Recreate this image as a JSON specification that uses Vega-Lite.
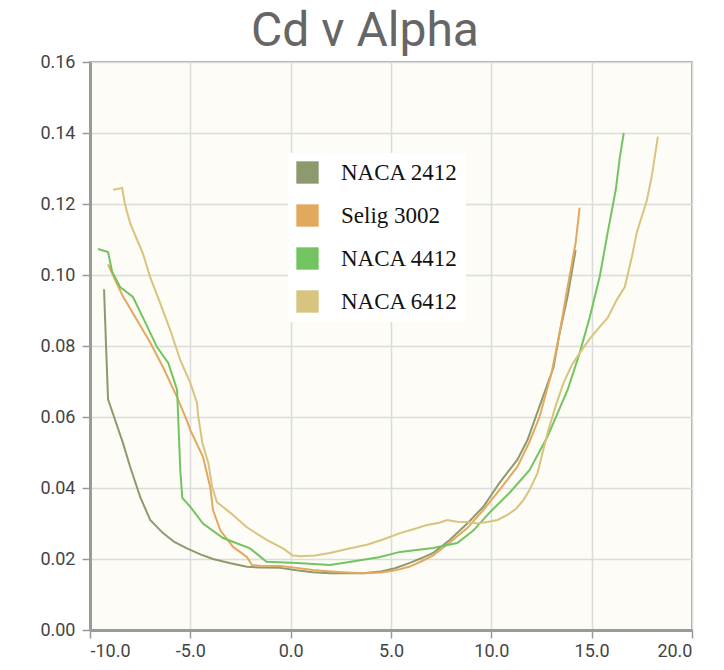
{
  "$schema": "https://vega.github.io/schema/vega-lite/v6.json",
  "autosize": "none",
  "width": 602,
  "height": 568,
  "padding": {"left": 90, "top": 62, "right": 32, "bottom": 40},
  "background": "#ffffff",
  "title": {
    "text": "Cd v Alpha",
    "fontSize": 48,
    "font": "Roboto",
    "fontWeight": "normal",
    "color": "#666666",
    "anchor": "middle",
    "baseline": "bottom",
    "offset": 2,
    "dx": -26,
    "dy": 53
  },
  "config": {
    "view": {"fill": "#fdfcf6", "stroke": "#a8a8a8", "strokeWidth": 2},
    "axis": {
      "labelFont": "Roboto",
      "labelFontSize": 18,
      "labelColor": "#444444",
      "tickColor": "#999999",
      "tickSize": 8,
      "tickWidth": 1.5,
      "domainColor": "#9a9a9a",
      "domainWidth": 3,
      "gridColor": "#dcdcdc",
      "gridWidth": 1.5,
      "title": null
    },
    "legend": {
      "labelFont": "Liberation Serif",
      "labelFontSize": 23,
      "labelColor": "#111111",
      "symbolType": "square",
      "symbolSize": 500,
      "symbolStrokeWidth": 0,
      "labelOffset": 22,
      "rowPadding": 19,
      "padding": 8,
      "titlePadding": 0
    }
  },
  "data": {
    "values": [
      {"airfoil": "NACA 2412", "alpha": -9.3, "cd": 0.096},
      {"airfoil": "NACA 2412", "alpha": -9.2, "cd": 0.08},
      {"airfoil": "NACA 2412", "alpha": -9.1, "cd": 0.065},
      {"airfoil": "NACA 2412", "alpha": -8.8, "cd": 0.06},
      {"airfoil": "NACA 2412", "alpha": -8.36, "cd": 0.0527},
      {"airfoil": "NACA 2412", "alpha": -8.0, "cd": 0.046},
      {"airfoil": "NACA 2412", "alpha": -7.5, "cd": 0.0375},
      {"airfoil": "NACA 2412", "alpha": -7.0, "cd": 0.031},
      {"airfoil": "NACA 2412", "alpha": -6.36, "cd": 0.0273},
      {"airfoil": "NACA 2412", "alpha": -5.8, "cd": 0.0248},
      {"airfoil": "NACA 2412", "alpha": -5.17, "cd": 0.023},
      {"airfoil": "NACA 2412", "alpha": -4.5, "cd": 0.0213},
      {"airfoil": "NACA 2412", "alpha": -3.87, "cd": 0.02},
      {"airfoil": "NACA 2412", "alpha": -3.0, "cd": 0.0188},
      {"airfoil": "NACA 2412", "alpha": -2.18, "cd": 0.0178},
      {"airfoil": "NACA 2412", "alpha": -1.5, "cd": 0.0176},
      {"airfoil": "NACA 2412", "alpha": -0.53, "cd": 0.0175},
      {"airfoil": "NACA 2412", "alpha": 0.3, "cd": 0.0168},
      {"airfoil": "NACA 2412", "alpha": 1.1, "cd": 0.0163},
      {"airfoil": "NACA 2412", "alpha": 2.0, "cd": 0.016},
      {"airfoil": "NACA 2412", "alpha": 2.8, "cd": 0.016},
      {"airfoil": "NACA 2412", "alpha": 3.6, "cd": 0.016},
      {"airfoil": "NACA 2412", "alpha": 4.5, "cd": 0.0165},
      {"airfoil": "NACA 2412", "alpha": 5.2, "cd": 0.0174},
      {"airfoil": "NACA 2412", "alpha": 5.94, "cd": 0.0189},
      {"airfoil": "NACA 2412", "alpha": 6.5, "cd": 0.0202},
      {"airfoil": "NACA 2412", "alpha": 7.1, "cd": 0.0217},
      {"airfoil": "NACA 2412", "alpha": 7.94, "cd": 0.0254},
      {"airfoil": "NACA 2412", "alpha": 8.8, "cd": 0.03},
      {"airfoil": "NACA 2412", "alpha": 9.6, "cd": 0.0347},
      {"airfoil": "NACA 2412", "alpha": 10.4, "cd": 0.0414},
      {"airfoil": "NACA 2412", "alpha": 11.3, "cd": 0.048},
      {"airfoil": "NACA 2412", "alpha": 11.8, "cd": 0.0535},
      {"airfoil": "NACA 2412", "alpha": 12.4, "cd": 0.063},
      {"airfoil": "NACA 2412", "alpha": 13.1, "cd": 0.074},
      {"airfoil": "NACA 2412", "alpha": 13.4, "cd": 0.0836},
      {"airfoil": "NACA 2412", "alpha": 13.8, "cd": 0.094},
      {"airfoil": "NACA 2412", "alpha": 14.2, "cd": 0.107},

      {"airfoil": "Selig 3002", "alpha": -9.1, "cd": 0.103},
      {"airfoil": "Selig 3002", "alpha": -8.7, "cd": 0.098},
      {"airfoil": "Selig 3002", "alpha": -8.36, "cd": 0.094},
      {"airfoil": "Selig 3002", "alpha": -7.66, "cd": 0.0873},
      {"airfoil": "Selig 3002", "alpha": -7.0, "cd": 0.081},
      {"airfoil": "Selig 3002", "alpha": -6.36, "cd": 0.074},
      {"airfoil": "Selig 3002", "alpha": -5.66, "cd": 0.0656},
      {"airfoil": "Selig 3002", "alpha": -5.17, "cd": 0.059},
      {"airfoil": "Selig 3002", "alpha": -5.0, "cd": 0.0563},
      {"airfoil": "Selig 3002", "alpha": -4.37, "cd": 0.0488},
      {"airfoil": "Selig 3002", "alpha": -4.0, "cd": 0.04},
      {"airfoil": "Selig 3002", "alpha": -3.87, "cd": 0.0338},
      {"airfoil": "Selig 3002", "alpha": -3.5, "cd": 0.028},
      {"airfoil": "Selig 3002", "alpha": -2.87, "cd": 0.0234},
      {"airfoil": "Selig 3002", "alpha": -2.18, "cd": 0.0206},
      {"airfoil": "Selig 3002", "alpha": -1.93, "cd": 0.0183},
      {"airfoil": "Selig 3002", "alpha": -1.5, "cd": 0.0181},
      {"airfoil": "Selig 3002", "alpha": -0.53, "cd": 0.018},
      {"airfoil": "Selig 3002", "alpha": 0.3, "cd": 0.0175},
      {"airfoil": "Selig 3002", "alpha": 1.1, "cd": 0.0169},
      {"airfoil": "Selig 3002", "alpha": 2.0, "cd": 0.0165},
      {"airfoil": "Selig 3002", "alpha": 2.8, "cd": 0.0162},
      {"airfoil": "Selig 3002", "alpha": 3.6, "cd": 0.016},
      {"airfoil": "Selig 3002", "alpha": 4.5, "cd": 0.0162},
      {"airfoil": "Selig 3002", "alpha": 5.2, "cd": 0.0168},
      {"airfoil": "Selig 3002", "alpha": 5.9, "cd": 0.0178},
      {"airfoil": "Selig 3002", "alpha": 6.5, "cd": 0.0193},
      {"airfoil": "Selig 3002", "alpha": 7.1, "cd": 0.021},
      {"airfoil": "Selig 3002", "alpha": 7.9, "cd": 0.0245},
      {"airfoil": "Selig 3002", "alpha": 8.8, "cd": 0.0287},
      {"airfoil": "Selig 3002", "alpha": 9.6, "cd": 0.0338},
      {"airfoil": "Selig 3002", "alpha": 10.4, "cd": 0.0394},
      {"airfoil": "Selig 3002", "alpha": 11.3, "cd": 0.046},
      {"airfoil": "Selig 3002", "alpha": 11.9, "cd": 0.053},
      {"airfoil": "Selig 3002", "alpha": 12.4, "cd": 0.06},
      {"airfoil": "Selig 3002", "alpha": 13.0, "cd": 0.0724},
      {"airfoil": "Selig 3002", "alpha": 13.4, "cd": 0.0836},
      {"airfoil": "Selig 3002", "alpha": 13.8, "cd": 0.0966},
      {"airfoil": "Selig 3002", "alpha": 14.2, "cd": 0.109},
      {"airfoil": "Selig 3002", "alpha": 14.4, "cd": 0.119},

      {"airfoil": "NACA 4412", "alpha": -9.6, "cd": 0.1073},
      {"airfoil": "NACA 4412", "alpha": -9.1, "cd": 0.1065},
      {"airfoil": "NACA 4412", "alpha": -8.9, "cd": 0.101},
      {"airfoil": "NACA 4412", "alpha": -8.5, "cd": 0.0966},
      {"airfoil": "NACA 4412", "alpha": -7.86, "cd": 0.0938},
      {"airfoil": "NACA 4412", "alpha": -7.36, "cd": 0.088},
      {"airfoil": "NACA 4412", "alpha": -6.66, "cd": 0.0797},
      {"airfoil": "NACA 4412", "alpha": -6.1, "cd": 0.0752},
      {"airfoil": "NACA 4412", "alpha": -5.66, "cd": 0.0676},
      {"airfoil": "NACA 4412", "alpha": -5.6, "cd": 0.059},
      {"airfoil": "NACA 4412", "alpha": -5.5, "cd": 0.045},
      {"airfoil": "NACA 4412", "alpha": -5.4, "cd": 0.0372},
      {"airfoil": "NACA 4412", "alpha": -5.0, "cd": 0.0347},
      {"airfoil": "NACA 4412", "alpha": -4.37, "cd": 0.03},
      {"airfoil": "NACA 4412", "alpha": -3.37, "cd": 0.0259},
      {"airfoil": "NACA 4412", "alpha": -2.03, "cd": 0.023},
      {"airfoil": "NACA 4412", "alpha": -1.2, "cd": 0.0192},
      {"airfoil": "NACA 4412", "alpha": 0.31, "cd": 0.0189},
      {"airfoil": "NACA 4412", "alpha": 1.96, "cd": 0.0183},
      {"airfoil": "NACA 4412", "alpha": 3.0, "cd": 0.0192},
      {"airfoil": "NACA 4412", "alpha": 4.4, "cd": 0.0205},
      {"airfoil": "NACA 4412", "alpha": 5.45, "cd": 0.022},
      {"airfoil": "NACA 4412", "alpha": 7.1, "cd": 0.0231},
      {"airfoil": "NACA 4412", "alpha": 8.3, "cd": 0.0245},
      {"airfoil": "NACA 4412", "alpha": 9.1, "cd": 0.028},
      {"airfoil": "NACA 4412", "alpha": 9.9, "cd": 0.033},
      {"airfoil": "NACA 4412", "alpha": 10.9, "cd": 0.0386},
      {"airfoil": "NACA 4412", "alpha": 11.9, "cd": 0.045},
      {"airfoil": "NACA 4412", "alpha": 12.8, "cd": 0.0545},
      {"airfoil": "NACA 4412", "alpha": 13.8, "cd": 0.0676},
      {"airfoil": "NACA 4412", "alpha": 14.4, "cd": 0.078},
      {"airfoil": "NACA 4412", "alpha": 14.9, "cd": 0.088},
      {"airfoil": "NACA 4412", "alpha": 15.4, "cd": 0.0995},
      {"airfoil": "NACA 4412", "alpha": 15.8, "cd": 0.112},
      {"airfoil": "NACA 4412", "alpha": 16.2, "cd": 0.124},
      {"airfoil": "NACA 4412", "alpha": 16.4, "cd": 0.133},
      {"airfoil": "NACA 4412", "alpha": 16.6, "cd": 0.14},

      {"airfoil": "NACA 6412", "alpha": -8.85, "cd": 0.124},
      {"airfoil": "NACA 6412", "alpha": -8.4, "cd": 0.1245},
      {"airfoil": "NACA 6412", "alpha": -8.26, "cd": 0.12},
      {"airfoil": "NACA 6412", "alpha": -8.0, "cd": 0.1146},
      {"airfoil": "NACA 6412", "alpha": -7.66, "cd": 0.11},
      {"airfoil": "NACA 6412", "alpha": -7.36, "cd": 0.106},
      {"airfoil": "NACA 6412", "alpha": -7.0, "cd": 0.0994},
      {"airfoil": "NACA 6412", "alpha": -6.5, "cd": 0.092},
      {"airfoil": "NACA 6412", "alpha": -6.0, "cd": 0.0845},
      {"airfoil": "NACA 6412", "alpha": -5.5, "cd": 0.076},
      {"airfoil": "NACA 6412", "alpha": -5.0, "cd": 0.0696},
      {"airfoil": "NACA 6412", "alpha": -4.67, "cd": 0.064},
      {"airfoil": "NACA 6412", "alpha": -4.6, "cd": 0.06},
      {"airfoil": "NACA 6412", "alpha": -4.4, "cd": 0.0527},
      {"airfoil": "NACA 6412", "alpha": -4.1, "cd": 0.047},
      {"airfoil": "NACA 6412", "alpha": -3.9, "cd": 0.04},
      {"airfoil": "NACA 6412", "alpha": -3.67, "cd": 0.036},
      {"airfoil": "NACA 6412", "alpha": -3.0, "cd": 0.033},
      {"airfoil": "NACA 6412", "alpha": -2.2, "cd": 0.029},
      {"airfoil": "NACA 6412", "alpha": -1.2, "cd": 0.0254},
      {"airfoil": "NACA 6412", "alpha": -0.38, "cd": 0.023},
      {"airfoil": "NACA 6412", "alpha": 0.1, "cd": 0.021},
      {"airfoil": "NACA 6412", "alpha": 0.5, "cd": 0.0208},
      {"airfoil": "NACA 6412", "alpha": 1.2, "cd": 0.021},
      {"airfoil": "NACA 6412", "alpha": 1.96, "cd": 0.0217},
      {"airfoil": "NACA 6412", "alpha": 2.8, "cd": 0.0228},
      {"airfoil": "NACA 6412", "alpha": 3.8, "cd": 0.024},
      {"airfoil": "NACA 6412", "alpha": 4.6, "cd": 0.0255},
      {"airfoil": "NACA 6412", "alpha": 5.45, "cd": 0.0273},
      {"airfoil": "NACA 6412", "alpha": 6.2, "cd": 0.0285},
      {"airfoil": "NACA 6412", "alpha": 6.8, "cd": 0.0296},
      {"airfoil": "NACA 6412", "alpha": 7.4, "cd": 0.0302},
      {"airfoil": "NACA 6412", "alpha": 7.8, "cd": 0.031},
      {"airfoil": "NACA 6412", "alpha": 8.3, "cd": 0.0305},
      {"airfoil": "NACA 6412", "alpha": 8.8, "cd": 0.0304},
      {"airfoil": "NACA 6412", "alpha": 9.3, "cd": 0.03},
      {"airfoil": "NACA 6412", "alpha": 9.8, "cd": 0.0304},
      {"airfoil": "NACA 6412", "alpha": 10.3, "cd": 0.031},
      {"airfoil": "NACA 6412", "alpha": 10.8, "cd": 0.0324},
      {"airfoil": "NACA 6412", "alpha": 11.2, "cd": 0.034},
      {"airfoil": "NACA 6412", "alpha": 11.6, "cd": 0.0366},
      {"airfoil": "NACA 6412", "alpha": 11.9, "cd": 0.0394},
      {"airfoil": "NACA 6412", "alpha": 12.3, "cd": 0.0442},
      {"airfoil": "NACA 6412", "alpha": 12.8, "cd": 0.0555},
      {"airfoil": "NACA 6412", "alpha": 13.2, "cd": 0.063},
      {"airfoil": "NACA 6412", "alpha": 13.6, "cd": 0.0696},
      {"airfoil": "NACA 6412", "alpha": 14.0, "cd": 0.0745},
      {"airfoil": "NACA 6412", "alpha": 14.4, "cd": 0.078},
      {"airfoil": "NACA 6412", "alpha": 14.9, "cd": 0.082},
      {"airfoil": "NACA 6412", "alpha": 15.4, "cd": 0.0854},
      {"airfoil": "NACA 6412", "alpha": 15.8, "cd": 0.088},
      {"airfoil": "NACA 6412", "alpha": 16.25, "cd": 0.093},
      {"airfoil": "NACA 6412", "alpha": 16.65, "cd": 0.0966},
      {"airfoil": "NACA 6412", "alpha": 17.0, "cd": 0.105},
      {"airfoil": "NACA 6412", "alpha": 17.25, "cd": 0.112},
      {"airfoil": "NACA 6412", "alpha": 17.75, "cd": 0.121},
      {"airfoil": "NACA 6412", "alpha": 18.0, "cd": 0.128},
      {"airfoil": "NACA 6412", "alpha": 18.3, "cd": 0.139}
    ]
  },
  "mark": {"type": "line", "strokeWidth": 2, "interpolate": "linear"},
  "encoding": {
    "x": {
      "field": "alpha",
      "type": "quantitative",
      "scale": {"domain": [-10, 20], "nice": false, "zero": false},
      "axis": {"values": [-10, -5, 0, 5, 10, 15, 20], "labelExpr": "replace(format(datum.value, '.1f'), '−', '-')", "labelPadding": 4}
    },
    "y": {
      "field": "cd",
      "type": "quantitative",
      "scale": {"domain": [0, 0.16], "nice": false},
      "axis": {"values": [0, 0.02, 0.04, 0.06, 0.08, 0.1, 0.12, 0.14, 0.16], "format": ".2f", "labelPadding": 7}
    },
    "color": {
      "field": "airfoil",
      "type": "nominal",
      "scale": {
        "domain": ["NACA 2412", "Selig 3002", "NACA 4412", "NACA 6412"],
        "range": ["#8d9a6e", "#e2a85e", "#72c460", "#d8c47e"]
      },
      "legend": {
        "title": null,
        "orient": "none",
        "legendX": 198,
        "legendY": 91,
        "fillColor": "#ffffff",
        "encode": {
          "symbols": {
            "update": {
              "fill": {"scale": "color", "field": "value"},
              "fillOpacity": {"value": 1},
              "strokeWidth": {"value": 0}
            }
          }
        }
      }
    },
    "order": {"field": "alpha", "type": "quantitative"}
  }
}
